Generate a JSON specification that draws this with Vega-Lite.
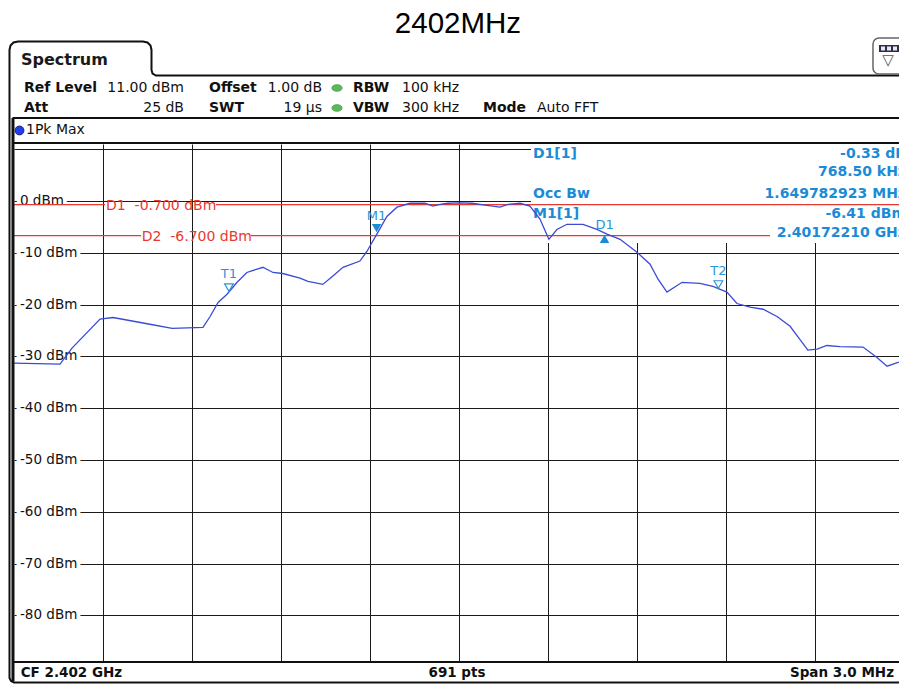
{
  "$schema": "https://vega.github.io/schema/vega-lite/v6.json",
  "width": 885,
  "height": 518,
  "autosize": {"type": "none"},
  "padding": {"left": 14, "top": 144, "right": 0, "bottom": 22},
  "background": "white",
  "config": {
    "view": {"stroke": null},
    "text": {"font": "DejaVu Sans"},
    "axis": {"domain": false, "ticks": false, "labels": false, "title": null, "grid": true, "gridColor": "#1a1a1a", "gridOpacity": 1, "gridWidth": 1}
  },
  "encoding": {
    "x": {"field": "f", "type": "quantitative", "scale": {"domain": [-1.5, 1.4832], "nice": false, "zero": false}, "axis": {"values": [-1.2, -0.9, -0.6, -0.3, 0, 0.3, 0.6, 0.9, 1.2]}},
    "y": {"field": "lvl", "type": "quantitative", "scale": {"domain": [-89, 11], "nice": false, "zero": false}, "axis": {"values": [10, 0, -10, -20, -30, -40, -50, -60, -70, -80]}}
  },
  "datasets": {
    "trace": [
      {"f": -1.5, "lvl": -31.3}, {"f": -1.345, "lvl": -31.5}, {"f": -1.3045, "lvl": -28.4}, {"f": -1.21, "lvl": -22.8},
      {"f": -1.166, "lvl": -22.5}, {"f": -1.042, "lvl": -23.8}, {"f": -0.967, "lvl": -24.6}, {"f": -0.863, "lvl": -24.4},
      {"f": -0.839, "lvl": -22.3}, {"f": -0.812, "lvl": -19.6}, {"f": -0.782, "lvl": -18.0}, {"f": -0.748, "lvl": -15.7},
      {"f": -0.715, "lvl": -13.8}, {"f": -0.661, "lvl": -12.8}, {"f": -0.627, "lvl": -13.8}, {"f": -0.594, "lvl": -14.0},
      {"f": -0.536, "lvl": -14.9}, {"f": -0.509, "lvl": -15.5}, {"f": -0.459, "lvl": -16.1}, {"f": -0.425, "lvl": -14.5},
      {"f": -0.391, "lvl": -12.8}, {"f": -0.334, "lvl": -11.6}, {"f": -0.31, "lvl": -9.7}, {"f": -0.273, "lvl": -6.0},
      {"f": -0.243, "lvl": -3.0}, {"f": -0.209, "lvl": -1.2}, {"f": -0.165, "lvl": -0.44}, {"f": -0.115, "lvl": -0.44},
      {"f": -0.088, "lvl": -1.0}, {"f": -0.064, "lvl": -0.64}, {"f": -0.037, "lvl": -0.44}, {"f": 0.003, "lvl": -0.35},
      {"f": 0.044, "lvl": -0.44}, {"f": 0.094, "lvl": -0.83}, {"f": 0.138, "lvl": -1.2}, {"f": 0.165, "lvl": -0.64},
      {"f": 0.206, "lvl": -0.44}, {"f": 0.239, "lvl": -1.0}, {"f": 0.273, "lvl": -3.5}, {"f": 0.303, "lvl": -7.4},
      {"f": 0.33, "lvl": -5.5}, {"f": 0.364, "lvl": -4.5}, {"f": 0.418, "lvl": -4.5}, {"f": 0.465, "lvl": -5.5},
      {"f": 0.499, "lvl": -6.4}, {"f": 0.543, "lvl": -7.4}, {"f": 0.6, "lvl": -9.9}, {"f": 0.644, "lvl": -12.2},
      {"f": 0.671, "lvl": -15.1}, {"f": 0.701, "lvl": -17.6}, {"f": 0.752, "lvl": -15.7}, {"f": 0.812, "lvl": -15.9},
      {"f": 0.856, "lvl": -16.5}, {"f": 0.903, "lvl": -17.6}, {"f": 0.937, "lvl": -19.8}, {"f": 0.981, "lvl": -20.5},
      {"f": 1.025, "lvl": -20.9}, {"f": 1.072, "lvl": -22.3}, {"f": 1.116, "lvl": -24.2}, {"f": 1.149, "lvl": -26.7},
      {"f": 1.176, "lvl": -28.8}, {"f": 1.207, "lvl": -28.6}, {"f": 1.24, "lvl": -27.9}, {"f": 1.284, "lvl": -28.1},
      {"f": 1.362, "lvl": -28.2}, {"f": 1.409, "lvl": -30.2}, {"f": 1.443, "lvl": -31.9}, {"f": 1.483, "lvl": -31.1}
    ],
    "markers": [
      {"n": "T1", "k": "T", "f": -0.7755, "lvl": -17.5},
      {"n": "M1", "k": "M", "f": -0.2779, "lvl": -6.41},
      {"n": "D1", "k": "D", "f": 0.4906, "lvl": -6.74},
      {"n": "T2", "k": "T", "f": 0.8743, "lvl": -16.9}
    ],
    "ylabels": [
      {"t": "0 dBm", "f": -1.4798, "lvl": 0}, {"t": "-10 dBm", "f": -1.4798, "lvl": -10},
      {"t": "-20 dBm", "f": -1.4798, "lvl": -20}, {"t": "-30 dBm", "f": -1.4798, "lvl": -30},
      {"t": "-40 dBm", "f": -1.4798, "lvl": -40}, {"t": "-50 dBm", "f": -1.4798, "lvl": -50},
      {"t": "-60 dBm", "f": -1.4798, "lvl": -60}, {"t": "-70 dBm", "f": -1.4798, "lvl": -70},
      {"t": "-80 dBm", "f": -1.4798, "lvl": -80}
    ],
    "redsegs": [
      {"f": -1.5, "f2": -1.1933, "lvl": -0.7}, {"f": -0.8191, "f2": 1.5034, "lvl": -0.7},
      {"f": -1.5, "f2": -1.0719, "lvl": -6.7}, {"f": -0.7011, "f2": 1.0483, "lvl": -6.7}
    ],
    "redlabels": [
      {"t": "D1\u00a0 -0.700 dBm", "f": -1.1899, "lvl": -0.7},
      {"t": "D2\u00a0 -6.700 dBm", "f": -1.0696, "lvl": -6.7}
    ],
    "tablebox": [{"f": 0.2427, "f2": 1.52, "lvl": -8.11, "lvl2": 11}],
    "notes": [
      {"g": "title", "t": "2402MHz", "f": -0.0034, "lvl": 32.43},
      {"g": "tab", "t": "Spectrum", "f": -1.4764, "lvl": 27.31},
      {"g": "hb", "t": "Ref Level", "f": -1.4663, "lvl": 21.81},
      {"g": "hb", "t": "Att", "f": -1.4663, "lvl": 17.95},
      {"g": "hb", "t": "Offset", "f": -0.8427, "lvl": 21.81},
      {"g": "hb", "t": "SWT", "f": -0.8427, "lvl": 17.95},
      {"g": "hb", "t": "RBW", "f": -0.3573, "lvl": 21.81},
      {"g": "hb", "t": "VBW", "f": -0.3573, "lvl": 17.95},
      {"g": "hb", "t": "Mode", "f": 0.0809, "lvl": 17.95},
      {"g": "hr", "t": "11.00 dBm", "f": -0.927, "lvl": 21.81},
      {"g": "hr", "t": "25 dB", "f": -0.927, "lvl": 17.95},
      {"g": "hr", "t": "1.00 dB", "f": -0.4618, "lvl": 21.81},
      {"g": "hr", "t": "19 µs", "f": -0.4618, "lvl": 17.95},
      {"g": "hl", "t": "100 kHz", "f": -0.1921, "lvl": 21.81},
      {"g": "hl", "t": "300 kHz", "f": -0.1921, "lvl": 17.95},
      {"g": "hl", "t": "Auto FFT", "f": 0.2629, "lvl": 17.95},
      {"g": "hl", "t": "1Pk Max", "f": -1.4596, "lvl": 13.61},
      {"g": "fl", "t": "CF 2.402 GHz", "f": -1.4774, "lvl": -91.03},
      {"g": "fc", "t": "691 pts", "f": -0.0067, "lvl": -91.03},
      {"g": "fr", "t": "Span 3.0 MHz", "f": 1.4663, "lvl": -91.03},
      {"g": "tl", "t": "D1[1]", "f": 0.2494, "lvl": 9.07},
      {"g": "tl", "t": "Occ Bw", "f": 0.2494, "lvl": 1.44},
      {"g": "tl", "t": "M1[1]", "f": 0.2494, "lvl": -2.51},
      {"g": "tr", "t": "-0.33 dB", "f": 1.5068, "lvl": 9.07},
      {"g": "tr", "t": "768.50 kHz", "f": 1.5068, "lvl": 5.5},
      {"g": "tr", "t": "1.649782923 MHz", "f": 1.5068, "lvl": 1.44},
      {"g": "tr", "t": "-6.41 dBm", "f": 1.5068, "lvl": -2.51},
      {"g": "tr", "t": "2.40172210 GHz", "f": 1.5068, "lvl": -6.18},
      {"g": "icon", "t": "▽", "f": 1.4461, "lvl": 27.3}
    ],
    "hrules": [
      {"f": -1.5051, "f2": 1.5034, "lvl": 16.02},
      {"f": -1.5051, "f2": 1.5034, "lvl": 11.2},
      {"f": -1.5051, "f2": 1.5034, "lvl": -89}
    ],
    "vrules": [{"f": -1.5034, "lvl": 16.02, "lvl2": -92.7}],
    "border": [
      {"o": 1, "f": 1.5034, "lvl": -92.96}, {"o": 2, "f": -1.5, "lvl": -92.96}, {"o": 3, "f": -1.5101, "lvl": -92.67},
      {"o": 4, "f": -1.5152, "lvl": -92.09}, {"o": 5, "f": -1.5152, "lvl": 29.15}, {"o": 6, "f": -1.5118, "lvl": 30.02},
      {"o": 7, "f": -1.5017, "lvl": 30.59}, {"o": 8, "f": -1.4865, "lvl": 30.79}, {"o": 9, "f": -1.0652, "lvl": 30.79},
      {"o": 10, "f": -1.05, "lvl": 30.59}, {"o": 11, "f": -1.0399, "lvl": 30.02}, {"o": 12, "f": -1.0365, "lvl": 29.15},
      {"o": 13, "f": -1.0365, "lvl": 25.29}, {"o": 14, "f": -1.0331, "lvl": 24.61}, {"o": 15, "f": -1.0213, "lvl": 24.22},
      {"o": 16, "f": 1.5034, "lvl": 24.22}
    ],
    "button": [{"f": 1.3955, "f2": 1.52, "lvl": 31.46, "lvl2": 24.51}],
    "iconrect": [{"f": 1.4157, "f2": 1.52, "lvl": 30.11, "lvl2": 28.76}],
    "iconcells": [
      {"f": 1.4225, "f2": 1.436, "lvl": 29.83, "lvl2": 29.05},
      {"f": 1.4427, "f2": 1.4562, "lvl": 29.83, "lvl2": 29.05},
      {"f": 1.4629, "f2": 1.4764, "lvl": 29.83, "lvl2": 29.05}
    ],
    "greendots": [{"f": -0.4112, "lvl": 21.81}, {"f": -0.4112, "lvl": 17.95}],
    "bluedot": [{"f": -1.4815, "lvl": 13.61}]
  },
  "layer": [
    {"data": {"name": "tablebox"}, "mark": {"type": "rect", "fill": "white"}, "encoding": {"x2": {"field": "f2"}, "y2": {"field": "lvl2"}}},
    {"data": {"name": "ylabels"}, "mark": {"type": "text", "align": "left", "baseline": "middle", "fontSize": 13.5, "fill": "white", "stroke": "white", "strokeWidth": 8}, "encoding": {"text": {"field": "t"}}},
    {"data": {"name": "ylabels"}, "mark": {"type": "text", "align": "left", "baseline": "middle", "fontSize": 13.5, "fill": "#111111"}, "encoding": {"text": {"field": "t"}}},
    {"data": {"name": "redsegs"}, "mark": {"type": "rule", "color": "#e8392f", "strokeWidth": 1.3}, "encoding": {"x2": {"field": "f2"}}},
    {"data": {"name": "redlabels"}, "mark": {"type": "text", "align": "left", "baseline": "middle", "dy": 1.5, "fontSize": 14, "fill": "#e8392f"}, "encoding": {"text": {"field": "t"}}},
    {"data": {"name": "notes"}, "transform": [{"filter": "datum.g == 'tl'"}], "mark": {"type": "text", "align": "left", "baseline": "middle", "fontSize": 14, "fontWeight": "bold", "fill": "#1b8bd6"}, "encoding": {"text": {"field": "t"}}},
    {"data": {"name": "notes"}, "transform": [{"filter": "datum.g == 'tr'"}], "mark": {"type": "text", "align": "right", "baseline": "middle", "fontSize": 14, "fontWeight": "bold", "fill": "#1b8bd6"}, "encoding": {"text": {"field": "t"}}},
    {"data": {"name": "trace"}, "mark": {"type": "line", "color": "#3a4bd6", "strokeWidth": 1.3}, "encoding": {}},
    {"data": {"name": "markers"}, "transform": [{"filter": "datum.k == 'T'"}], "mark": {"type": "point", "shape": "triangle-down", "filled": false, "stroke": "#2a95d8", "strokeWidth": 1.2, "size": 75, "yOffset": -4, "opacity": 1}, "encoding": {}},
    {"data": {"name": "markers"}, "transform": [{"filter": "datum.k == 'M'"}], "mark": {"type": "point", "shape": "triangle-down", "filled": true, "fill": "#1b8bd6", "size": 90, "yOffset": -6, "opacity": 1}, "encoding": {}},
    {"data": {"name": "markers"}, "transform": [{"filter": "datum.k == 'D'"}], "mark": {"type": "point", "shape": "triangle-up", "filled": true, "fill": "#1b8bd6", "size": 90, "yOffset": 3, "opacity": 1}, "encoding": {}},
    {"data": {"name": "markers"}, "transform": [{"filter": "datum.k != 'D'"}], "mark": {"type": "text", "align": "center", "baseline": "middle", "dy": -18, "fontSize": 13, "fill": "#2a95d8"}, "encoding": {"text": {"field": "n"}}},
    {"data": {"name": "markers"}, "transform": [{"filter": "datum.k == 'D'"}], "mark": {"type": "text", "align": "center", "baseline": "middle", "dy": -11, "fontSize": 13, "fill": "#2a95d8"}, "encoding": {"text": {"field": "n"}}},
    {"data": {"name": "notes"}, "transform": [{"filter": "datum.g == 'title'"}], "mark": {"type": "text", "align": "center", "baseline": "alphabetic", "font": "Liberation Sans", "fontSize": 29.5, "fill": "#000000"}, "encoding": {"text": {"field": "t"}}},
    {"data": {"name": "notes"}, "transform": [{"filter": "datum.g == 'tab'"}], "mark": {"type": "text", "align": "left", "baseline": "middle", "fontSize": 16, "fontWeight": "bold", "fill": "#1a1a1a"}, "encoding": {"text": {"field": "t"}}},
    {"data": {"name": "notes"}, "transform": [{"filter": "datum.g == 'hb'"}], "mark": {"type": "text", "align": "left", "baseline": "middle", "fontSize": 14, "fontWeight": "bold", "fill": "#111111"}, "encoding": {"text": {"field": "t"}}},
    {"data": {"name": "notes"}, "transform": [{"filter": "datum.g == 'hr'"}], "mark": {"type": "text", "align": "right", "baseline": "middle", "fontSize": 14, "fill": "#111111"}, "encoding": {"text": {"field": "t"}}},
    {"data": {"name": "notes"}, "transform": [{"filter": "datum.g == 'hl'"}], "mark": {"type": "text", "align": "left", "baseline": "middle", "fontSize": 14, "fill": "#111111"}, "encoding": {"text": {"field": "t"}}},
    {"data": {"name": "notes"}, "transform": [{"filter": "datum.g == 'fl'"}], "mark": {"type": "text", "align": "left", "baseline": "middle", "fontSize": 13.5, "fontWeight": "bold", "fill": "#111111"}, "encoding": {"text": {"field": "t"}}},
    {"data": {"name": "notes"}, "transform": [{"filter": "datum.g == 'fc'"}], "mark": {"type": "text", "align": "center", "baseline": "middle", "fontSize": 13.5, "fontWeight": "bold", "fill": "#111111"}, "encoding": {"text": {"field": "t"}}},
    {"data": {"name": "notes"}, "transform": [{"filter": "datum.g == 'fr'"}], "mark": {"type": "text", "align": "right", "baseline": "middle", "fontSize": 13.5, "fontWeight": "bold", "fill": "#111111"}, "encoding": {"text": {"field": "t"}}},
    {"data": {"name": "hrules"}, "mark": {"type": "rule", "color": "#111111", "strokeWidth": 2}, "encoding": {"x2": {"field": "f2"}}},
    {"data": {"name": "vrules"}, "mark": {"type": "rule", "color": "#111111", "strokeWidth": 3}, "encoding": {"y2": {"field": "lvl2"}}},
    {"data": {"name": "border"}, "mark": {"type": "line", "color": "#111111", "strokeWidth": 2}, "encoding": {"order": {"field": "o", "type": "quantitative"}}},
    {"data": {"name": "button"}, "mark": {"type": "rect", "fill": "white", "stroke": "#666666", "strokeWidth": 1.5, "cornerRadius": 6}, "encoding": {"x2": {"field": "f2"}, "y2": {"field": "lvl2"}}},
    {"data": {"name": "iconrect"}, "mark": {"type": "rect", "fill": "#2e2e4a"}, "encoding": {"x2": {"field": "f2"}, "y2": {"field": "lvl2"}}},
    {"data": {"name": "iconcells"}, "mark": {"type": "rect", "fill": "#e8e8f0"}, "encoding": {"x2": {"field": "f2"}, "y2": {"field": "lvl2"}}},
    {"data": {"name": "notes"}, "transform": [{"filter": "datum.g == 'icon'"}], "mark": {"type": "text", "align": "center", "baseline": "middle", "fontSize": 15, "fill": "#555555"}, "encoding": {"text": {"field": "t"}}},
    {"data": {"name": "greendots"}, "mark": {"type": "point", "shape": "M-1,0A1,0.65,0,1,0,1,0A1,0.65,0,1,0,-1,0Z", "filled": true, "fill": "#5cb85c", "stroke": "#3d8f3d", "strokeWidth": 0.5, "size": 110, "opacity": 1}, "encoding": {}},
    {"data": {"name": "bluedot"}, "mark": {"type": "point", "shape": "circle", "filled": true, "fill": "#1f3fe8", "stroke": "#10106a", "strokeWidth": 0.8, "size": 80, "opacity": 1}, "encoding": {}}
  ]
}
